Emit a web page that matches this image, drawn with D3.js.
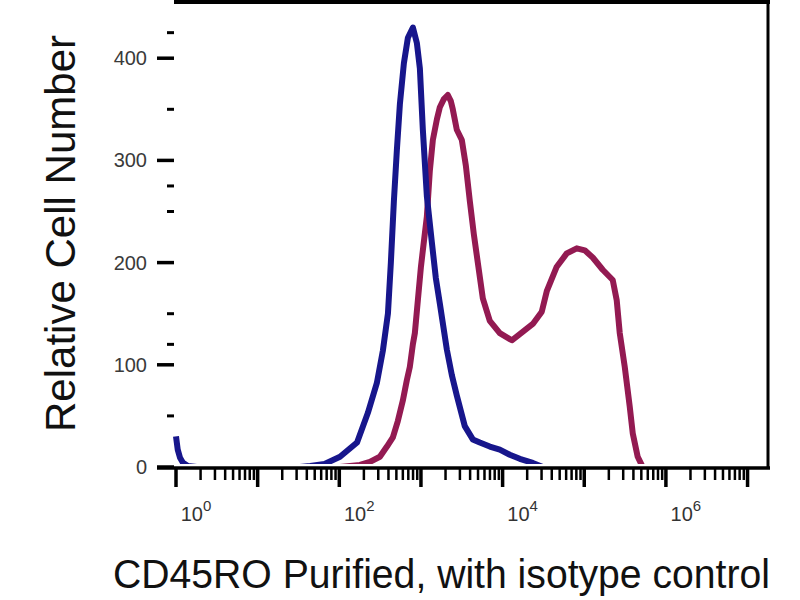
<!DOCTYPE html>
<html>
<head>
<meta charset="utf-8">
<script src="https://cdn.jsdelivr.net/npm/d3@7"></script>
<style>
  body { margin: 0; background: #fff; }
</style>
</head>
<body>
<div id="chart"></div>
<script>
// isotype control (blue) and CD45RO (red) histograms: intensity vs count
var blueX = [1, 1.05, 1.12, 1.22, 1.4, 1.8, 33, 44, 66, 102, 165, 224, 288, 342,
  394, 428, 466, 507, 552, 618, 692, 797, 891, 970, 1055, 1181, 1359, 1521, 1703,
  2075, 2388, 2748, 3442, 4315, 5258, 6970, 9240, 12250, 16250, 23440, 31050, 50120];
var blueCount = [30, 17, 9, 4, 1, 0, 0, 1, 3, 10, 24, 53, 82, 114,
  150, 200, 260, 310, 355, 395, 420, 430, 415, 390, 330, 265, 220, 185, 160,
  115, 90, 70, 40, 27, 24, 20, 17, 12, 8, 4, 0, 0];

var redX = [102, 179, 237, 314, 383, 453, 521, 600, 672, 731, 796, 842, 916, 997,
  1055, 1181, 1285, 1399, 1566, 1703, 1906, 2133, 2323, 2455, 2748, 3167, 3546,
  3970, 4440, 4970, 5725, 6970, 9240, 12970, 16250, 23440, 30200, 34750, 46050,
  61050, 80950, 101400, 127000, 168300, 223300, 250000, 272100, 313300, 360600,
  392600, 451600, 519700, 839500];
var redCount = [0, 2, 5, 10, 20, 29, 45, 65, 85, 98, 120, 131, 163, 195,
  212, 245, 290, 320, 340, 352, 360, 364, 358, 350, 330, 320, 295,
  260, 228, 200, 165, 143, 131, 124, 130, 140, 152, 172, 196,
  209, 214, 212, 205, 193, 183, 163, 131, 98, 59,
  33, 10, 0, 0];

var yMajor = [0, 100, 200, 300, 400];
var yMinor = [50, 120, 150, 250, 275, 350, 425];
var xDecades = [1, 10, 100, 1000, 10000, 100000, 1000000, 10000000];
var xLabelExp = [0, 2, 4, 6];

var xTitle = "CD45RO Purified, with isotype control";
var yTitle = "Relative Cell Number";

// set the dimensions of the plot area
var plot = {left: 176, right: 768, top: 2, bottom: 467};

var svg = d3.select("#chart")
  .append("svg")
    .attr("width", 800)
    .attr("height", 600);

var x = d3.scaleLog()
  .domain([1, 17800000])
  .range([plot.left, plot.right]);

var y = d3.scaleLinear()
  .domain([0, 455])
  .range([plot.bottom, plot.top]);

// hide the part of the curves that runs along the baseline
svg.append("clipPath")
  .attr("id", "plot-clip")
  .append("rect")
    .attr("x", plot.left - 5)
    .attr("y", plot.top)
    .attr("width", plot.right - plot.left + 5)
    .attr("height", plot.bottom - plot.top - 3);

var line = d3.line()
  .x(function(d) { return x(d[0]); })
  .y(function(d) { return y(d[1]); });

// red curve first, blue on top
svg.append("path")
  .datum(d3.zip(redX, redCount))
  .attr("clip-path", "url(#plot-clip)")
  .attr("fill", "none")
  .attr("stroke", "#931a52")
  .attr("stroke-width", 6)
  .attr("stroke-linejoin", "round")
  .attr("d", line);

svg.append("path")
  .datum(d3.zip(blueX, blueCount))
  .attr("clip-path", "url(#plot-clip)")
  .attr("fill", "none")
  .attr("stroke", "#17168c")
  .attr("stroke-width", 6)
  .attr("stroke-linejoin", "round")
  .attr("d", line);

// frame: top and right border
svg.append("line")
  .attr("x1", plot.left - 2).attr("x2", plot.right + 2)
  .attr("y1", plot.top).attr("y2", plot.top)
  .attr("stroke", "#000").attr("stroke-width", 4);
svg.append("line")
  .attr("x1", plot.right).attr("x2", plot.right)
  .attr("y1", plot.top).attr("y2", plot.bottom + 1)
  .attr("stroke", "#000").attr("stroke-width", 3);

// X axis (log)
var xMinor = [];
xDecades.forEach(function(d) {
  for (var k = 2; k <= 9; k++) {
    if (d * k < 17800000) xMinor.push(d * k);
  }
});

var xAxisG = svg.append("g");
xAxisG.append("line")
  .attr("x1", 157).attr("x2", plot.right + 2)
  .attr("y1", plot.bottom + 1).attr("y2", plot.bottom + 1)
  .attr("stroke", "#000").attr("stroke-width", 3.5);
xAxisG.selectAll(".xminor")
  .data(xMinor)
  .enter().append("line")
    .attr("x1", function(d) { return x(d); })
    .attr("x2", function(d) { return x(d); })
    .attr("y1", plot.bottom).attr("y2", plot.bottom + 13)
    .attr("stroke", "#000").attr("stroke-width", 2.5);
xAxisG.selectAll(".xmajor")
  .data(xDecades)
  .enter().append("line")
    .attr("x1", function(d) { return x(d); })
    .attr("x2", function(d) { return x(d); })
    .attr("y1", plot.bottom).attr("y2", plot.bottom + 20)
    .attr("stroke", "#000").attr("stroke-width", 3.5);

var xLab = xAxisG.selectAll(".xlab")
  .data(xLabelExp)
  .enter().append("text")
    .attr("x", function(d) { return x(Math.pow(10, d)) + 20; })
    .attr("y", 521)
    .attr("text-anchor", "middle")
    .style("font-family", "Liberation Sans, Arial, sans-serif")
    .style("font-size", "20px")
    .attr("fill", "#333");
xLab.append("tspan").text("10");
xLab.append("tspan")
  .attr("dy", -10)
  .style("font-size", "15px")
  .text(function(d) { return d; });

// Y axis: short tick dashes, no axis line
var yAxisG = svg.append("g");
yAxisG.selectAll(".ymajor")
  .data(yMajor)
  .enter().append("line")
    .attr("x1", 157).attr("x2", 174)
    .attr("y1", function(d) { return y(d); })
    .attr("y2", function(d) { return y(d); })
    .attr("stroke", "#000").attr("stroke-width", 3.5);
yAxisG.selectAll(".yminor")
  .data(yMinor)
  .enter().append("line")
    .attr("x1", 167).attr("x2", 174)
    .attr("y1", function(d) { return y(d); })
    .attr("y2", function(d) { return y(d); })
    .attr("stroke", "#000").attr("stroke-width", 3);
yAxisG.selectAll(".ylab")
  .data(yMajor)
  .enter().append("text")
    .attr("x", 147)
    .attr("y", function(d) { return y(d); })
    .attr("dy", "0.35em")
    .attr("text-anchor", "end")
    .style("font-family", "Liberation Sans, Arial, sans-serif")
    .style("font-size", "20px")
    .attr("fill", "#3a3a3a")
    .text(function(d) { return d; });

// axis titles
svg.append("text")
  .attr("x", 113)
  .attr("y", 588)
  .attr("textLength", 657)
  .attr("lengthAdjust", "spacingAndGlyphs")
  .style("font-family", "Liberation Sans Narrow, Liberation Sans, Arial, sans-serif")
  .style("font-size", "41px")
  .attr("fill", "#111")
  .text(xTitle);

svg.append("text")
  .attr("transform", "translate(75,432) rotate(-90)")
  .attr("textLength", 397)
  .attr("lengthAdjust", "spacingAndGlyphs")
  .style("font-family", "Liberation Sans, Arial, sans-serif")
  .style("font-size", "42px")
  .attr("fill", "#111")
  .text(yTitle);
</script>
</body>
</html>
